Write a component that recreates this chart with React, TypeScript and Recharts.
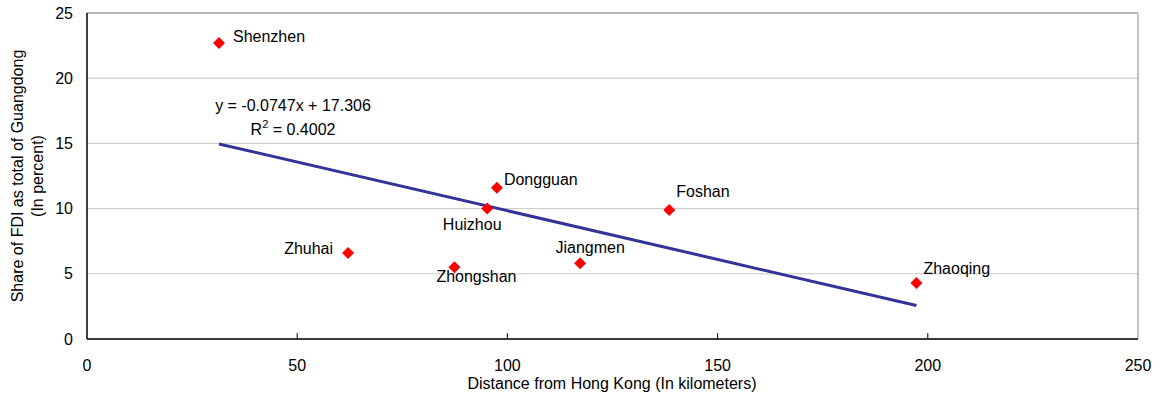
import React from 'react';
import { ScatterChart, Scatter, XAxis, YAxis, CartesianGrid, ReferenceLine, Customized } from 'recharts';

// values
const cities = ['Shenzhen', 'Zhuhai', 'Zhongshan', 'Huizhou', 'Dongguan', 'Jiangmen', 'Foshan', 'Zhaoqing'];
const distanceKm = [31.4, 62.1, 87.4, 95.2, 97.5, 117.3, 138.5, 197.3];
const fdiShare = [22.7, 6.6, 5.5, 10.0, 11.6, 5.8, 9.9, 4.3];

// linear trend line end points (from the equation shown)
const trendX = [31.4, 197.3];
const trendY = [14.96, 2.57];

const xTicks = [0, 50, 100, 150, 200, 250];
const yTicks = [0, 5, 10, 15, 20, 25];
const equationText = 'y = -0.0747x + 17.306';
const rSquaredText = ' = 0.4002';

const points = cities.map((name, i) => ({ name, x: distanceKm[i], y: fdiShare[i] }));
const trend = trendX.map((x, i) => ({ x, y: trendY[i] }));

const FONT = '"Liberation Sans", Arial, sans-serif';

// where each city name sits relative to its marker
const labelPlacement: Record<string, { dx: number; dy: number; anchor: 'start' | 'middle' | 'end' }> = {
  Shenzhen: { dx: 14, dy: -1, anchor: 'start' },
  Zhuhai: { dx: -15, dy: 1, anchor: 'end' },
  Zhongshan: { dx: 22, dy: 15, anchor: 'middle' },
  Huizhou: { dx: -15, dy: 21, anchor: 'middle' },
  Dongguan: { dx: 7, dy: -3, anchor: 'start' },
  Jiangmen: { dx: 10, dy: -10, anchor: 'middle' },
  Foshan: { dx: 7, dy: -13, anchor: 'start' },
  Zhaoqing: { dx: 7, dy: -9, anchor: 'start' },
};

const CityMarker = (props: any) => {
  const { cx, cy, payload } = props;
  const p = labelPlacement[payload.name];
  const s = 6;
  return (
    <g>
      <polygon points={`${cx},${cy - s} ${cx + s},${cy} ${cx},${cy + s} ${cx - s},${cy}`} fill="#ff0000" />
      <text x={cx + p.dx} y={cy + p.dy} textAnchor={p.anchor} fontSize={16} fontFamily={FONT} fill="#000">
        {payload.name}
      </text>
    </g>
  );
};

const Annotations = () => (
  <g fontFamily={FONT} fontSize={16} fill="#000">
    <text transform="translate(17,176) rotate(-90)" textAnchor="middle" dominantBaseline="central">
      Share of FDI as total of Guangdong
    </text>
    <text transform="translate(37,176) rotate(-90)" textAnchor="middle" dominantBaseline="central">
      (In percent)
    </text>
    <text x={612} y={389} textAnchor="middle">Distance from Hong Kong (In kilometers)</text>
    <text x={293} y={111} textAnchor="middle">{equationText}</text>
    <text x={293} y={135} textAnchor="middle">
      <tspan>R</tspan>
      <tspan dy={-7} fontSize={11}>2</tspan>
      <tspan dy={7}>{rSquaredText}</tspan>
    </text>
  </g>
);

const App: React.FC = () => {
  return (
    <div style={{ position: 'absolute', left: 0, top: 0, width: 1164, height: 404, background: '#fff' }}>
      <ScatterChart width={1164} height={404} margin={{ top: 13, right: 26, left: 0, bottom: 0 }}>
        <CartesianGrid vertical={false} stroke="#c8c8c8" />
        <XAxis
          type="number"
          dataKey="x"
          domain={[0, 250]}
          ticks={xTicks}
          height={65}
          axisLine={{ stroke: '#000', strokeWidth: 1.5 }}
          tickLine={false}
          tickSize={12}
          tickMargin={9}
          tick={{ fill: '#000', fontSize: 16, fontFamily: FONT }}
        />
        <YAxis
          type="number"
          dataKey="y"
          domain={[0, 25]}
          ticks={yTicks}
          width={87}
          axisLine={{ stroke: '#000', strokeWidth: 1.5 }}
          tickLine={false}
          tickSize={6}
          tickMargin={8}
          tick={{ fill: '#000', fontSize: 16, fontFamily: FONT }}
        />
        <ReferenceLine y={25} stroke="#888" />
        <ReferenceLine x={250} stroke="#888" />
        {xTicks.slice(1, -1).map((t) => (
          <ReferenceLine key={t} segment={[{ x: t, y: 0 }, { x: t, y: 0.45 }]} stroke="#000" />
        ))}
        <Scatter
          data={trend}
          line={{ stroke: '#333399', strokeWidth: 3 }}
          shape={() => <g />}
          isAnimationActive={false}
        />
        <Scatter data={points} shape={<CityMarker />} isAnimationActive={false} />
        <Customized component={Annotations} />
      </ScatterChart>
    </div>
  );
};

export default App;
